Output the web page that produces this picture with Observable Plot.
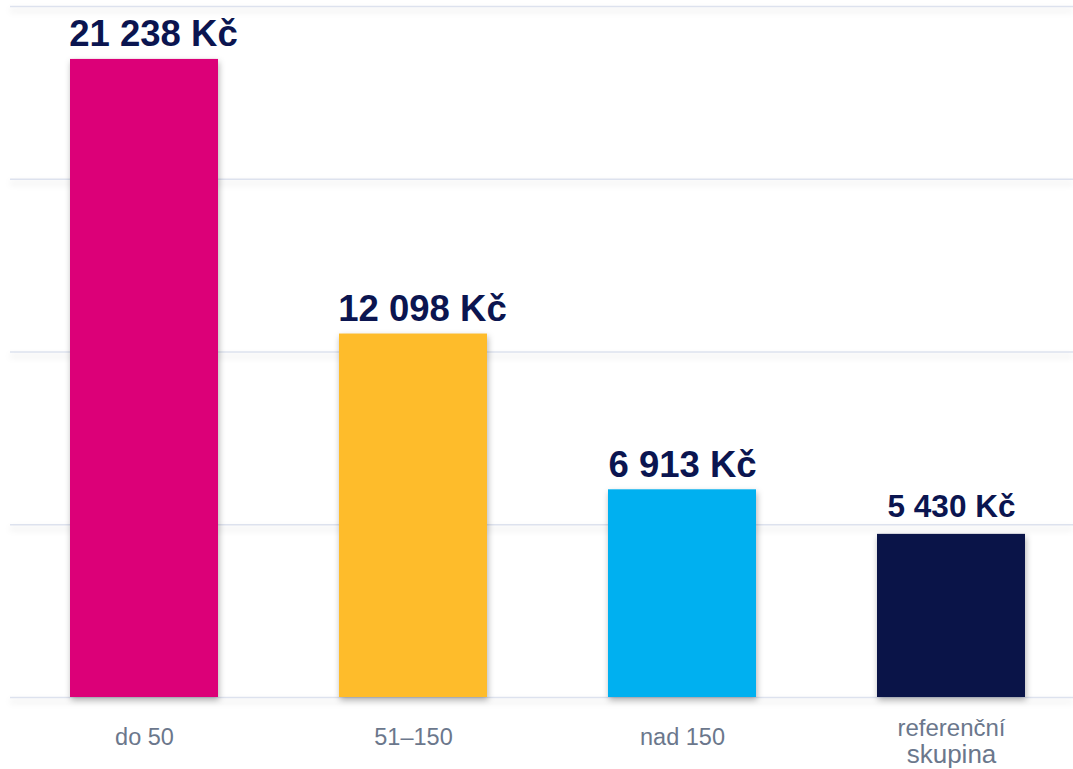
<!DOCTYPE html>
<html>
<head>
<meta charset="utf-8">
<script src="https://cdn.jsdelivr.net/npm/d3@7"></script>
<script src="https://cdn.jsdelivr.net/npm/@observablehq/plot@0.6"></script>
<style>
  html, body { margin: 0; padding: 0; background: #ffffff; }
  #chart svg { display: block; }
</style>
</head>
<body>
<div id="chart"></div>
<script>
// Data
const categories = ["do 50", "51–150", "nad 150", "referenční skupina"];
const tickLabels = ["do 50", "51–150", "nad 150", "referenční\nskupina"];
const values = [21238, 12098, 6913, 5430];
const gridTicks = [0, 5750, 11500, 17250, 23000];

// Styles
const barColors = ["#dc0078", "#febc2b", "#00b0f0", "#0a1448"];
const labelColor = "#0b1550";
const tickColor = "#6b778c";
const font = "'Liberation Sans', Arial, Helvetica, sans-serif";

const data = categories.map((c, i) => ({cat: c, idx: i, value: values[i]}));
const fmt = v => d3.format(",")(v).replace(/,/g, " ") + " Kč";

// tick label lines (one row per line of each label)
const tickLines = [];
categories.forEach((c, i) => {
  const lines = tickLabels[i].split("\n");
  lines.forEach((t, j) => tickLines.push({cat: c, text: t, line: j, n: lines.length}));
});

const valueLabel = (rows, opts) => Plot.text(rows, {
  x: "cat", y: "value", text: d => fmt(d.value),
  fill: labelColor, fontWeight: "bold", fontFamily: font,
  lineAnchor: "bottom", ...opts
});
const tickText = (rows, opts) => Plot.text(rows, {
  x: "cat", y: () => 0, text: "text",
  fill: tickColor, fontFamily: font, lineAnchor: "bottom", ...opts
});

const chart = Plot.plot({
  width: 1073,
  height: 769,
  marginTop: 6,
  marginBottom: 72,
  marginLeft: 10,
  marginRight: 0,
  style: {fontFamily: font, background: "#ffffff"},
  x: {domain: categories, range: [9.5, 1085.5], paddingInner: 0.45, paddingOuter: 0.225, axis: null},
  y: {domain: [0, 23000], axis: null},
  color: {domain: categories, range: barColors},
  marks: [
    Plot.ruleY(gridTicks, {stroke: "#dde2ee", strokeWidth: 1.5}),
    Plot.barY(data, {x: "cat", y: "value", fill: "cat"}),
    valueLabel(data.filter(d => d.idx < 2), {fontSize: 36.5, dy: -13, dx: 9}),
    valueLabel(data.filter(d => d.idx === 2), {fontSize: 36.5, dy: -13}),
    valueLabel(data.filter(d => d.idx === 3), {fontSize: 31.5, dy: -17}),
    tickText(tickLines.filter(d => d.n === 1), {fontSize: 23.5, dy: 47}),
    tickText(tickLines.filter(d => d.n > 1 && d.line === 0), {fontSize: 24, dy: 38}),
    tickText(tickLines.filter(d => d.n > 1 && d.line === 1), {fontSize: 26, dy: 65})
  ]
});

// soft shadows like the original
chart.querySelectorAll('g[aria-label="bar"]').forEach(g => {
  g.style.filter = "drop-shadow(1px 3px 3px rgba(0,0,0,0.3))";
});
chart.querySelectorAll('g[aria-label="rule"]').forEach(g => {
  g.style.filter = "drop-shadow(0px 4px 3px rgba(0,0,0,0.14))";
});

document.getElementById("chart").appendChild(chart);
</script>
</body>
</html>
